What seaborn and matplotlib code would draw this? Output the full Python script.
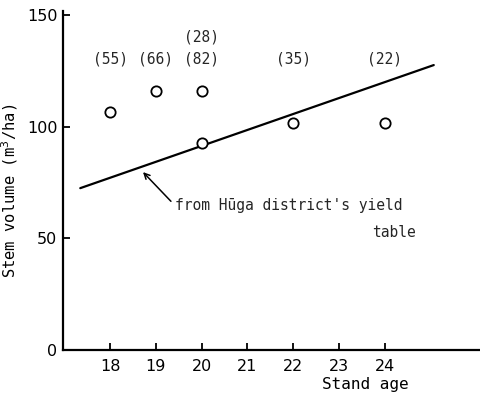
import matplotlib
matplotlib.use("Agg")
import matplotlib.pyplot as plt
import seaborn as sns
import pandas as pd

# data
ages = [18, 19, 20, 20, 22, 24]
volumes = [106.5, 116, 116, 92.5, 101.5, 101.5]
count_labels = ["(55)", "(66)", "(28)\n(82)", "(35)", "(22)"]
count_x = [18, 19, 20, 22, 24]
yield_x = [17.35, 25.07]
yield_y = [72.4, 127.6]
x_ticks = [18, 19, 20, 21, 22, 23, 24]
y_ticks = [0, 50, 100, 150]

sns.set_style("white")
plt.rcParams['font.family'] = ['DejaVu Sans']

fig = plt.figure(figsize=(4.8, 3.95), dpi=100)
ax = fig.add_axes([0.131, 0.115, 0.869, 0.858])

pts = pd.DataFrame({"age": ages, "vol": volumes})
line = pd.DataFrame({"age": yield_x, "vol": yield_y})

sns.lineplot(data=line, x="age", y="vol", ax=ax, color="black", linewidth=1.6)
sns.scatterplot(data=pts, x="age", y="vol", ax=ax, marker="o", s=55,
                facecolor="white", edgecolor="black", linewidth=1.3, zorder=3)

mono = "DejaVu Sans Mono"
for x, lab in zip(count_x, count_labels):
    ax.text(x, 127, lab, ha="center", va="bottom", fontsize=10.5,
            family=mono, linespacing=1.55)

ax.annotate("", xy=(18.72, 79.6), xytext=(19.33, 66.5),
            arrowprops=dict(arrowstyle="->", color="black", lw=1.1,
                            shrinkA=0, shrinkB=0))
ax.text(19.42, 64.8, "from H\u016bga district's yield", fontsize=10.5,
        family=mono, va="center", ha="left")
ax.text(24.2, 52.5, "table", fontsize=10.5, family=mono, ha="center", va="center")

ax.set_xlim(16.97, 26.08)
ax.set_ylim(0, 152)
ax.set_xticks(x_ticks)
ax.set_yticks(y_ticks)
ax.tick_params(direction="in", length=5, width=1.3, labelsize=11.5,
               bottom=True, left=True, color="black", labelcolor="black")
ax.tick_params(axis="x", pad=7)
ax.tick_params(axis="y", pad=4)
ax.set_xlabel("Stand age", family=mono, fontsize=11.5, color="black")
ax.xaxis.set_label_coords(0.724, -0.08)
ax.set_ylabel("Stem volume (m$^3$/ha)", family=mono, fontsize=11.2, color="black")
ax.yaxis.set_label_coords(-0.103, 0.467)
for s in ["top", "right"]:
    ax.spines[s].set_visible(False)
for s in ["left", "bottom"]:
    ax.spines[s].set_color("black")
    ax.spines[s].set_linewidth(1.6)

fig.savefig("out.png", dpi=100)
